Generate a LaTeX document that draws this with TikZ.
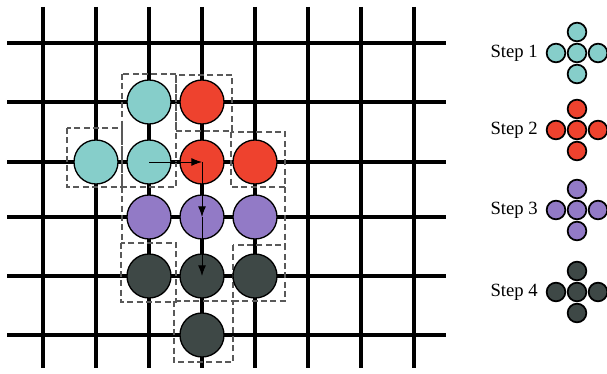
\documentclass[tikz,border=0pt]{standalone}
\usepackage{fontspec}
\setmainfont{Liberation Serif}
\usetikzlibrary{arrows.meta}

\definecolor{stepcyan}{RGB}{134,206,202}
\definecolor{stepred}{RGB}{238,66,46}
\definecolor{steppurple}{RGB}{146,122,198}
\definecolor{stepdark}{RGB}{62,72,70}

\tikzset{
  ball/.style={circle, draw=black, line width=1pt, minimum size=33pt, inner sep=0pt},
  dot/.style={circle, draw=black, line width=1.3pt, minimum size=14pt, inner sep=0pt},
  window/.style={draw=black!65, line width=0.8pt, dash pattern=on 4.5pt off 2.5pt},
  gridline/.style={line width=2.4pt},
  scanarrow/.style={line width=0.7pt, -{Latex[length=8pt,width=6pt]}},
  steplabel/.style={anchor=east, inner sep=0pt, font=\fontsize{14}{16}\selectfont}
}

\begin{document}
\begin{tikzpicture}[x=0.75pt, y=-0.75pt]
\useasboundingbox (0,0) rectangle (607,374);
% grid
\draw[gridline] (43,7) -- (43,368);
\draw[gridline] (96,7) -- (96,368);
\draw[gridline] (149,7) -- (149,368);
\draw[gridline] (202,7) -- (202,368);
\draw[gridline] (255,7) -- (255,368);
\draw[gridline] (308,7) -- (308,368);
\draw[gridline] (361,7) -- (361,368);
\draw[gridline] (414,7) -- (414,368);
\draw[gridline] (7,43) -- (446,43);
\draw[gridline] (7,102) -- (446,102);
\draw[gridline] (7,162) -- (446,162);
\draw[gridline] (7,217) -- (446,217);
\draw[gridline] (7,276) -- (446,276);
\draw[gridline] (7,335) -- (446,335);
% dashed windows
\draw[window] (122,74) rectangle (176,187);
\draw[window] (67,128) rectangle (122,187);
\draw[window] (176,75) rectangle (232,131);
\draw[window] (231,132) rectangle (285,187);
\draw[window] (122,187) -- (122,243);
\draw[window] (285,187) -- (285,245);
\draw[window] (121,243) rectangle (176,302);
\draw[window] (233,245) rectangle (285,301);
\draw[window] (174,301) rectangle (233,362);
% step 1
\node[ball, fill=stepcyan] (c1) at (149,102) {};
\node[ball, fill=stepcyan] (c2) at (96,162) {};
\node[ball, fill=stepcyan] (c3) at (149,162) {};
% step 2
\node[ball, fill=stepred] (r1) at (202,102) {};
\node[ball, fill=stepred] (r2) at (202,162) {};
\node[ball, fill=stepred] (r3) at (255,162) {};
% step 3
\node[ball, fill=steppurple] (p1) at (149,217) {};
\node[ball, fill=steppurple] (p2) at (202,217) {};
\node[ball, fill=steppurple] (p3) at (255,217) {};
% step 4
\node[ball, fill=stepdark] (d1) at (149,276) {};
\node[ball, fill=stepdark] (d2) at (202,276) {};
\node[ball, fill=stepdark] (d3) at (255,276) {};
\node[ball, fill=stepdark] (d4) at (202,335) {};
% scan path
\draw[scanarrow] (c3.center) -- (r2.center);
\draw[scanarrow] (r2.center) -- (p2.center);
\draw[scanarrow] (p2.center) -- (d2.center);
% legend
\node[steplabel] (s1) at (538,53) {Step 1};
\node[dot, fill=stepcyan] (s1c) at (577,53) {};
\node[dot, fill=stepcyan] (s1l) at (556,53) {};
\node[dot, fill=stepcyan] (s1r) at (598,53) {};
\node[dot, fill=stepcyan] (s1t) at (577,32) {};
\node[dot, fill=stepcyan] (s1b) at (577,74) {};
\node[steplabel] (s2) at (538,130) {Step 2};
\node[dot, fill=stepred] (s2c) at (577,130) {};
\node[dot, fill=stepred] (s2l) at (556,130) {};
\node[dot, fill=stepred] (s2r) at (598,130) {};
\node[dot, fill=stepred] (s2t) at (577,109) {};
\node[dot, fill=stepred] (s2b) at (577,151) {};
\node[steplabel] (s3) at (538,210) {Step 3};
\node[dot, fill=steppurple] (s3c) at (577,210) {};
\node[dot, fill=steppurple] (s3l) at (556,210) {};
\node[dot, fill=steppurple] (s3r) at (598,210) {};
\node[dot, fill=steppurple] (s3t) at (577,189) {};
\node[dot, fill=steppurple] (s3b) at (577,231) {};
\node[steplabel] (s4) at (538,292) {Step 4};
\node[dot, fill=stepdark] (s4c) at (577,292) {};
\node[dot, fill=stepdark] (s4l) at (556,292) {};
\node[dot, fill=stepdark] (s4r) at (598,292) {};
\node[dot, fill=stepdark] (s4t) at (577,271) {};
\node[dot, fill=stepdark] (s4b) at (577,313) {};
\end{tikzpicture}
\end{document}
